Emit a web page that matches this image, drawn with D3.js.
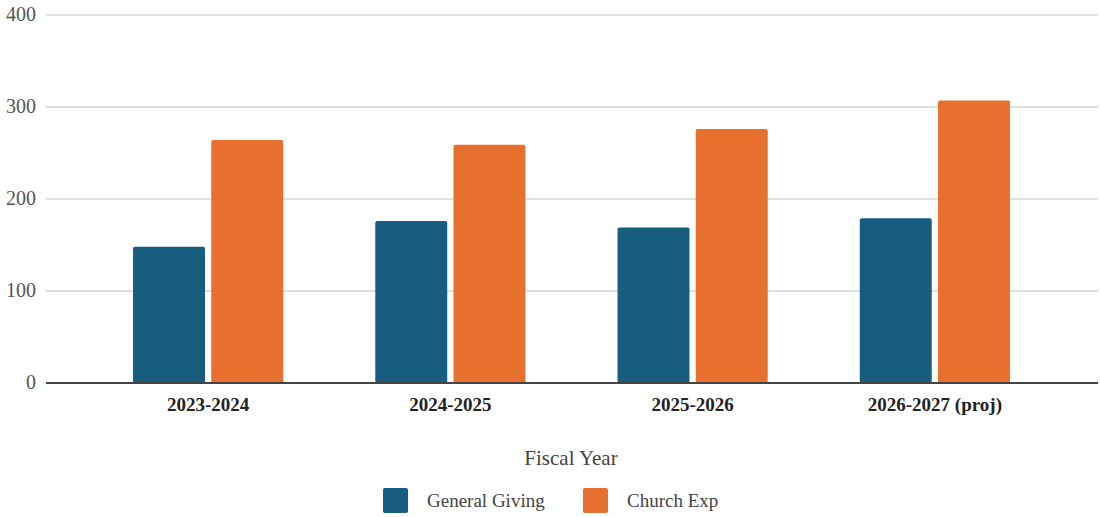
<!DOCTYPE html>
<html>
<head>
<meta charset="utf-8">
<script src="https://cdn.jsdelivr.net/npm/d3@7"></script>
<style>
  body { margin: 0; background: #fff; }
  svg text { font-family: "Liberation Serif", "DejaVu Serif", serif; }
</style>
</head>
<body>
<div id="chart"></div>
<script>
// data
const years = ["2023-2024", "2024-2025", "2025-2026", "2026-2027 (proj)"];
const series = ["General Giving", "Church Exp"];
const generalGiving = [148, 176, 169, 179];
const churchExp = [264, 259, 276, 307];
const yTicks = [0, 100, 200, 300, 400];
const colors = ["#165d80", "#e8702f"];

const W = 1100, H = 517;
const svg = d3.select("#chart").append("svg")
    .attr("width", W).attr("height", H);

const rows = years.map((y, i) => ({year: y, values: [generalGiving[i], churchExp[i]]}));

// scales
const x0 = d3.scaleBand().domain(years).range([87, 1056]).paddingInner(0.38).paddingOuter(0.19);
const x1 = d3.scaleBand().domain(series).range([0, x0.bandwidth()]).paddingInner(0.08);
const y = d3.scaleLinear().domain([0, 400]).range([383, 15]);

// gridlines
svg.append("g").selectAll("line")
    .data(yTicks.filter(d => d > 0))
    .enter().append("line")
    .attr("x1", 46).attr("x2", 1098)
    .attr("y1", d => y(d)).attr("y2", d => y(d))
    .attr("stroke", "#d4d4d4").attr("stroke-width", 1.5);

// y labels
svg.append("g").selectAll("text")
    .data(yTicks)
    .enter().append("text")
    .attr("x", 36).attr("y", d => y(d) + 6)
    .attr("text-anchor", "end")
    .attr("font-size", 20).attr("fill", "#555")
    .text(d => d);

// bars
const groups = svg.append("g").selectAll("g")
    .data(rows)
    .enter().append("g")
    .attr("transform", d => `translate(${x0(d.year)},0)`);

groups.selectAll("rect")
    .data(d => d.values.map((v, i) => ({key: series[i], v: v, i: i})))
    .enter().append("rect")
    .attr("x", d => x1(d.key))
    .attr("width", x1.bandwidth())
    .attr("y", d => y(d.v))
    .attr("height", d => y(0) - y(d.v))
    .attr("rx", 2)
    .attr("fill", d => colors[d.i]);

// baseline
svg.append("line")
    .attr("x1", 46).attr("x2", 1098)
    .attr("y1", y(0)).attr("y2", y(0))
    .attr("stroke", "#444").attr("stroke-width", 2);

// x axis labels
const xAxis = svg.append("g")
    .attr("transform", `translate(0,${y(0)})`)
    .call(d3.axisBottom(x0).tickSize(0).tickPadding(0));
xAxis.select(".domain").remove();
xAxis.selectAll("text")
    .attr("y", 28)
    .attr("dy", 0)
    .attr("font-size", 19)
    .attr("font-weight", "bold")
    .attr("fill", "#222")
    .style("font-family", "'Liberation Serif', serif");

// axis title
svg.append("text")
    .attr("x", 571).attr("y", 465)
    .attr("text-anchor", "middle")
    .attr("font-size", 21).attr("fill", "#444")
    .text("Fiscal Year");

// legend
const legend = svg.append("g");
const legendX = [383, 583];
series.forEach((s, i) => {
    legend.append("rect")
        .attr("x", legendX[i]).attr("y", 488)
        .attr("width", 25).attr("height", 25).attr("rx", 2)
        .attr("fill", colors[i]);
    legend.append("text")
        .attr("x", legendX[i] + 44).attr("y", 507)
        .attr("font-size", 19).attr("fill", "#444")
        .text(s);
});
</script>
</body>
</html>
